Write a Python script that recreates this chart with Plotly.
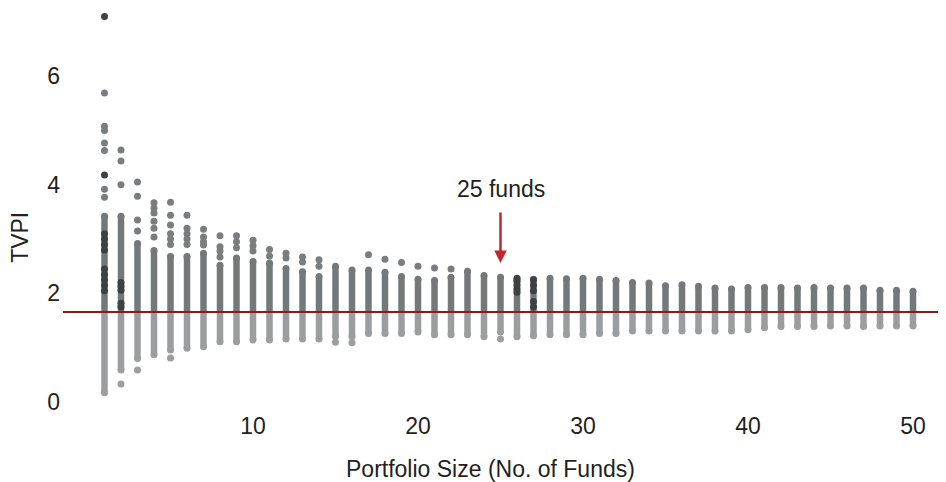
import plotly.graph_objects as go

# ---------------- data ----------------
portfolio_size = list(range(1, 51))
threshold = 1.66  # median TVPI line

body_low = [0.17, 0.59, 0.80, 0.87, 0.96, 0.99, 1.02, 1.11, 1.11, 1.14,
            1.14, 1.16, 1.16, 1.16, 1.20, 1.20, 1.26, 1.26, 1.26, 1.29,
            1.24, 1.24, 1.24, 1.20, 1.29, 1.20, 1.22, 1.24, 1.24, 1.24,
            1.26, 1.26, 1.31, 1.31, 1.31, 1.31, 1.31, 1.31, 1.31, 1.33,
            1.37, 1.39, 1.39, 1.39, 1.40, 1.40, 1.39, 1.40, 1.40, 1.40]
body_high = [3.42, 3.42, 2.92, 2.79, 2.68, 2.68, 2.74, 2.52, 2.65, 2.59,
             2.56, 2.46, 2.40, 2.31, 2.50, 2.43, 2.43, 2.39, 2.31, 2.26,
             2.24, 2.30, 2.41, 2.33, 2.30, 2.26, 2.26, 2.28, 2.27, 2.28,
             2.26, 2.24, 2.20, 2.19, 2.14, 2.16, 2.13, 2.10, 2.08, 2.11,
             2.11, 2.11, 2.10, 2.11, 2.10, 2.10, 2.10, 2.06, 2.06, 2.04]

# isolated points above the bodies
upper_x = [1, 1, 1, 1, 1, 1, 1,
           2, 2, 2,
           3, 3, 3, 3,
           4, 4, 4, 4, 4, 4,
           5, 5, 5, 5, 5, 5,
           6, 6, 6, 6, 6,
           7, 7, 7, 7,
           8, 8, 8, 8,
           9, 9, 9,
           10, 10, 10,
           11, 11, 12, 12, 13, 13, 14, 14,
           17, 18, 19, 20, 21, 22]
upper_y = [5.69, 5.08, 5.00, 4.77, 4.63, 3.92, 3.77,
           4.64, 4.44, 4.00,
           4.05, 3.79, 3.35, 3.15,
           3.67, 3.57, 3.48, 3.33, 3.20, 3.04,
           3.68, 3.44, 3.26, 3.10, 3.00, 2.90,
           3.44, 3.20, 3.10, 3.00, 2.90,
           3.18, 3.04, 2.95, 2.89,
           3.06, 2.86, 2.78, 2.67,
           3.06, 2.95, 2.84,
           2.98, 2.88, 2.78,
           2.81, 2.69, 2.74, 2.65, 2.67, 2.58, 2.62, 2.50,
           2.71, 2.63, 2.57, 2.50, 2.47, 2.45]

# isolated points below the bodies
lower_x = [2, 3, 5, 15, 16, 25]
lower_y = [0.33, 0.59, 0.81, 1.10, 1.09, 1.16]

# darker (overlapping) observations
dark_x = [1, 1, 1, 1, 1, 1, 1, 1, 1, 1, 1,
          2, 2, 2, 2, 2,
          26, 26, 26, 26, 26,
          27, 27, 27, 27, 27]
dark_y = [7.10, 4.18, 3.10, 3.00, 2.90, 2.80, 2.45, 2.35, 2.25, 2.15, 2.05,
          2.20, 2.13, 2.06, 1.82, 1.75,
          2.28, 2.22, 2.15, 2.08, 2.02,
          2.25, 2.15, 2.05, 1.85, 1.75]

tick_x = [10, 20, 30, 40, 50]
tick_y = [0, 2, 4, 6]

# ---------------- styles ----------------
DARK = "#75787b"
LIGHT = "#9b9d9f"
BLACKISH = "#3e4144"
RED_LINE = "#8b1a1a"
RED_ARROW = "#c1272d"
TXT = "#231f20"
FONT = "Liberation Sans, Arial, sans-serif"
FS = 23
W = 6.5
MS = 7

fig = go.Figure()

lx, ly, dx, dy = [], [], [], []
for s, lo, hi in zip(portfolio_size, body_low, body_high):
    lx += [s, s, None]
    ly += [lo, threshold, None]
    dx += [s, s, None]
    dy += [threshold, hi, None]

fig.add_trace(go.Scatter(x=lx, y=ly, mode="lines", line=dict(color=LIGHT, width=W),
                         hoverinfo="skip", showlegend=False))
fig.add_trace(go.Scatter(x=portfolio_size, y=body_low, mode="markers",
                         marker=dict(color=LIGHT, size=MS, line=dict(width=0)),
                         showlegend=False))
fig.add_trace(go.Scatter(x=dx, y=dy, mode="lines", line=dict(color=DARK, width=W),
                         hoverinfo="skip", showlegend=False))
fig.add_trace(go.Scatter(x=portfolio_size, y=body_high, mode="markers",
                         marker=dict(color=DARK, size=MS, line=dict(width=0)),
                         showlegend=False))
fig.add_trace(go.Scatter(x=upper_x, y=upper_y, mode="markers",
                         marker=dict(color="#7a7d80", size=MS, line=dict(width=0)),
                         showlegend=False))
fig.add_trace(go.Scatter(x=lower_x, y=lower_y, mode="markers",
                         marker=dict(color=LIGHT, size=MS, line=dict(width=0)),
                         showlegend=False))
fig.add_trace(go.Scatter(x=dark_x, y=dark_y, mode="markers",
                         marker=dict(color=BLACKISH, size=MS, line=dict(width=0)),
                         showlegend=False))

# median line
fig.add_shape(type="line", xref="paper", x0=0, x1=1, yref="y", y0=threshold, y1=threshold,
              line=dict(color=RED_LINE, width=2), layer="above")

# arrow + label
fig.add_annotation(x=25, y=2.56, ax=25, ay=3.50, xref="x", yref="y", axref="x", ayref="y",
                   showarrow=True, arrowcolor=RED_ARROW, arrowwidth=2.5, arrowhead=2,
                   arrowsize=1, text="", font=dict(size=1), borderpad=0)
fig.add_annotation(x=25, y=3.92, xref="x", yref="y", text="25 funds", showarrow=False,
                   xanchor="center", yanchor="middle",
                   font=dict(family=FONT, size=FS, color=TXT))

# axis titles
fig.add_annotation(x=-0.0487, y=0.43, xref="paper", yref="paper", text="TVPI",
                   xanchor="center", yanchor="middle",
                   textangle=-90, showarrow=False, font=dict(family=FONT, size=FS, color=TXT))
fig.add_annotation(x=0.4836, y=-0.153, xref="paper", yref="paper",
                   xanchor="center", yanchor="middle",
                   text="Portfolio Size (No. of Funds)", showarrow=False,
                   font=dict(family=FONT, size=FS, color=TXT))

# page body has an 8px margin: figure is sized so it fills the 946x482 window
fig.update_layout(
    width=938, height=474,
    margin=dict(l=55, r=0, t=2, b=74),
    paper_bgcolor="white", plot_bgcolor="white",
    font=dict(family=FONT, size=FS, color=TXT),
    showlegend=False,
    xaxis=dict(range=[-1.515, 52.0], tickvals=tick_x, showgrid=False, zeroline=False,
               showline=False, ticks="", ticklabelstandoff=2,
               tickfont=dict(family=FONT, size=FS, color=TXT)),
    yaxis=dict(range=[-0.11, 7.219], tickvals=tick_y, showgrid=False, zeroline=False,
               showline=False, ticks="", ticklabelstandoff=2,
               tickfont=dict(family=FONT, size=FS, color=TXT)),
)

fig.write_html("out.html")
